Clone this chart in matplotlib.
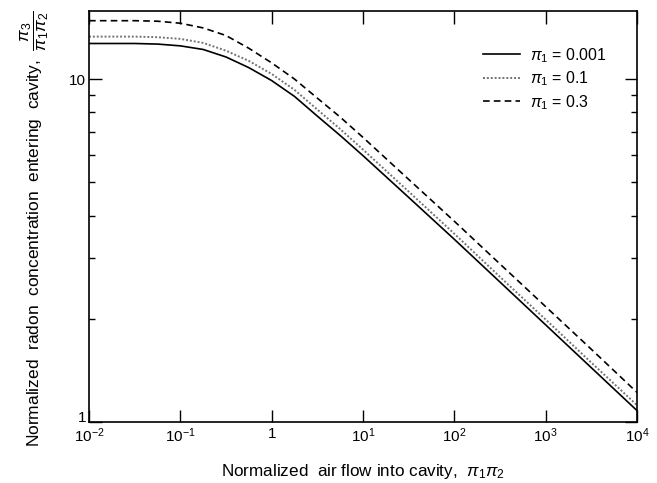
import matplotlib
matplotlib.use('Agg')
import matplotlib.pyplot as plt
import matplotlib.transforms as mtransforms
from matplotlib.ticker import FixedLocator, FixedFormatter, NullLocator, NullFormatter

plt.rcParams['font.family'] = ['Liberation Sans', 'DejaVu Sans']
plt.rcParams['mathtext.fontset'] = 'custom'
plt.rcParams['mathtext.rm'] = 'Liberation Sans'
plt.rcParams['mathtext.it'] = 'Liberation Sans:italic'

# values (x = pi1*pi2, log-spaced)
flow = [0.01, 0.0316, 0.0562, 0.1, 0.178, 0.316, 0.562, 1, 1.78, 3.16, 5.62, 10,
        31.6, 100, 316, 1000, 3162, 10000]
conc_0001 = [12.7, 12.7, 12.65, 12.5, 12.2, 11.6, 10.8, 9.9, 8.9, 7.8, 6.85, 5.98,
             4.52, 3.41, 2.56, 1.92, 1.44, 1.08]
conc_01 = [13.3, 13.3, 13.25, 13.1, 12.75, 12.1, 11.3, 10.35, 9.3, 8.15, 7.15, 6.23,
           4.7, 3.54, 2.65, 1.99, 1.49, 1.12]
conc_03 = [14.8, 14.8, 14.75, 14.55, 14.1, 13.4, 12.3, 11.15, 10.0, 8.8, 7.75, 6.76,
           5.1, 3.85, 2.89, 2.17, 1.63, 1.22]

xticks = [1e-2, 1e-1, 1, 1e1, 1e2, 1e3, 1e4]
xlabels = ['$10^{-2}$', '$10^{-1}$', '1', '$10^{1}$', '$10^{2}$', '$10^{3}$', '$10^{4}$']

fig = plt.figure(figsize=(6.57, 4.83), dpi=100)
ax = fig.add_axes([0.1355, 0.1263, 0.834, 0.851])

ax.plot(flow, conc_0001, color='black', lw=1.2, label=r'$\pi_1$ = 0.001')
ax.plot(flow, conc_01, color='0.45', lw=1.4, linestyle=(0, (1, 1)), label=r'$\pi_1$ = 0.1')
ax.plot(flow, conc_03, color='black', lw=1.2, linestyle=(0, (4, 2.5)), label=r'$\pi_1$ = 0.3')

ax.set_xscale('log')
ax.set_yscale('log')
ax.set_xlim(1e-2, 1e4)
ax.set_ylim(1, 15.8)

ax.xaxis.set_major_locator(FixedLocator(xticks))
ax.xaxis.set_major_formatter(FixedFormatter(xlabels))
ax.xaxis.set_minor_locator(NullLocator())
ax.yaxis.set_major_locator(FixedLocator([1, 10]))
ax.yaxis.set_major_formatter(FixedFormatter(['1', '10']))
ax.yaxis.set_minor_locator(FixedLocator([2, 3, 4, 5, 6, 7, 8, 9]))
ax.yaxis.set_minor_formatter(NullFormatter())

ax.tick_params(which='both', direction='in', top=True, right=True, labelsize=11)
ax.tick_params(which='major', length=9, width=1)
ax.tick_params(which='minor', length=4, width=1)
ax.tick_params(axis='y', pad=2)
for s in ax.spines.values():
    s.set_linewidth(1.2)

# nudge the "1" label up so it clears the 10^-2 label
fig.canvas.draw()
lab1 = ax.get_yticklabels()[0]
lab1.set_transform(lab1.get_transform() + mtransforms.ScaledTranslation(0, 5 / 100, fig.dpi_scale_trans))

ax.set_xlabel(r'Normalized  air flow into cavity,  $\pi_1\pi_2$', fontsize=12.3, labelpad=12)
ax.set_ylabel(r'Normalized  radon  concentration  entering  cavity,  $\dfrac{\pi_3}{\pi_1\pi_2}$',
              fontsize=12.5, va='center')
ax.yaxis.set_label_coords(-0.1, 0.47)

ax.legend(loc='upper left', bbox_to_anchor=(0.6925, 0.95), frameon=False, fontsize=11.5,
          handlelength=2.3, labelspacing=0.3, handletextpad=0.65)

fig.savefig('out.png', dpi=100)
